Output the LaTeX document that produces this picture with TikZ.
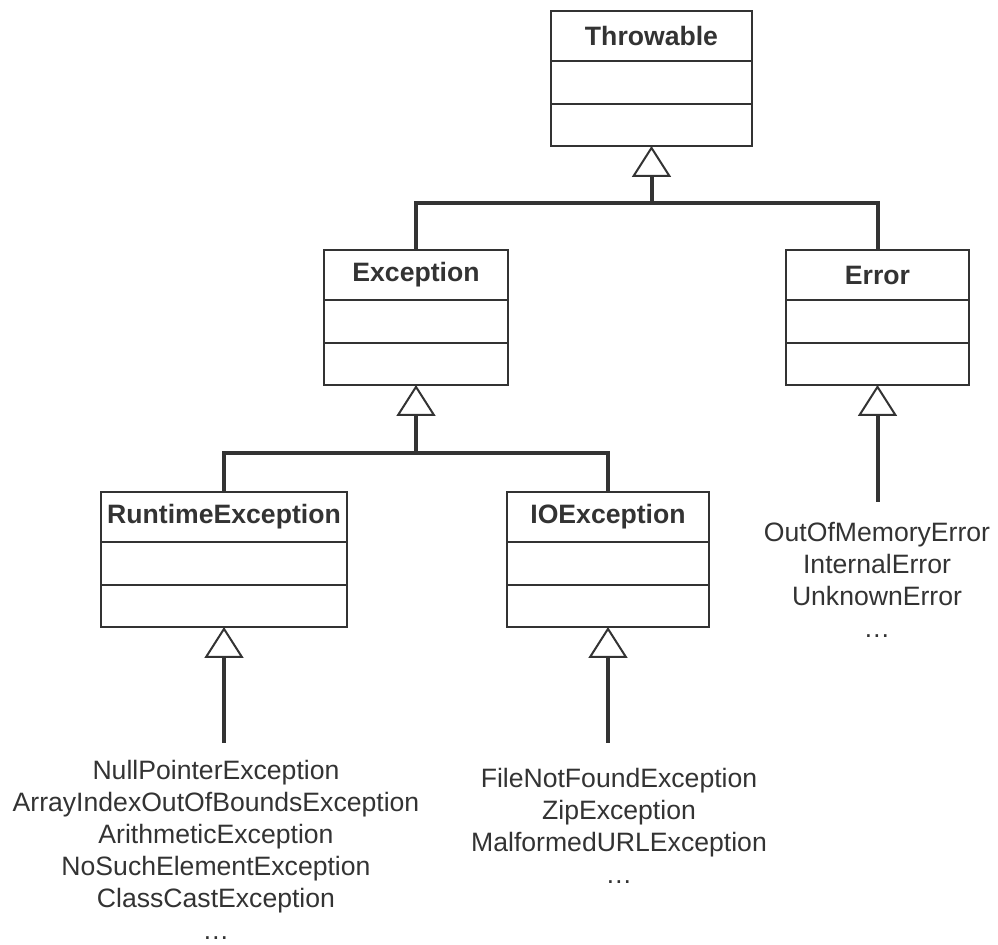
\documentclass[tikz,border=0pt]{standalone}
\usepackage{fontspec}
\setmainfont{Liberation Sans}
\usetikzlibrary{arrows.meta,positioning}
\definecolor{umlgray}{HTML}{333333}

\begin{document}
\begin{tikzpicture}[x=0.5pt, y=-0.5pt,
  every node/.style={font=\fontsize{13.3}{16}\selectfont, text=umlgray},
  head/.style={draw=umlgray, line width=1pt, outer sep=0pt, inner sep=0pt,
    minimum height=25pt, font=\fontsize{13.3}{16}\selectfont\bfseries},
  part/.style={draw=umlgray, line width=1pt, outer sep=0pt, inner sep=0pt,
    minimum height=21.5pt},
  bar/.style={draw=umlgray, line width=2pt},
  inherit/.style={bar, -{Triangle[open, length=15.5pt, width=19.5pt, line width=1pt]}},
  sublist/.style={align=center, anchor=north, inner sep=0pt}]
\useasboundingbox (0,0) rectangle (998,945);

% Throwable
\node[head, minimum width=100.5pt] (thr1) at (651.5,36) {Throwable};
\node[part, minimum width=100.5pt, below=0pt of thr1] (thr2) {};
\node[part, minimum width=100.5pt, minimum height=21pt, below=0pt of thr2] (thr3) {};

% Exception
\node[head, minimum width=92pt] (exc1) at (416,275) {Exception};
\node[part, minimum width=92pt, below=0pt of exc1] (exc2) {};
\node[part, minimum width=92pt, minimum height=21pt, below=0pt of exc2] (exc3) {};

% Error
\node[head, minimum width=91.5pt] (err1) at (877.5,275) {Error};
\node[part, minimum width=91.5pt, below=0pt of err1] (err2) {};
\node[part, minimum width=91.5pt, minimum height=21pt, below=0pt of err2] (err3) {};

% RuntimeException
\node[head, minimum width=123pt] (rt1) at (224,517) {RuntimeException};
\node[part, minimum width=123pt, below=0pt of rt1] (rt2) {};
\node[part, minimum width=123pt, minimum height=21pt, below=0pt of rt2] (rt3) {};

% IOException
\node[head, minimum width=101pt] (io1) at (608,517) {IOException};
\node[part, minimum width=101pt, below=0pt of io1] (io2) {};
\node[part, minimum width=101pt, minimum height=21pt, below=0pt of io2] (io3) {};

% Inheritance: Exception, Error -> Throwable
\coordinate (j1) at (651.5,203);
\draw[bar] (exc1.north) |- (j1) -| (err1.north);
\draw[inherit] (j1) -- (thr3.south);

% Inheritance: RuntimeException, IOException -> Exception
\coordinate (j2) at (416,453);
\draw[bar] (rt1.north) |- (j2) -| (io1.north);
\draw[inherit] (j2) -- (exc3.south);

% Subclasses of Error
\coordinate (err0) at (877.5,502);
\draw[inherit] (err0) -- (err3.south);
\node[sublist] (errlist) at (877,522) {OutOfMemoryError\\InternalError\\UnknownError\\…};

% Subclasses of RuntimeException
\coordinate (rt0) at (224,743);
\draw[inherit] (rt0) -- (rt3.south);
\node[sublist] (rtlist) at (216,760) {NullPointerException\\ArrayIndexOutOfBoundsException\\ArithmeticException\\NoSuchElementException\\ClassCastException\\…};

% Subclasses of IOException
\coordinate (io0) at (608,743);
\draw[inherit] (io0) -- (io3.south);
\node[sublist] (iolist) at (619,768) {FileNotFoundException\\ZipException\\MalformedURLException\\…};
\end{tikzpicture}
\end{document}
